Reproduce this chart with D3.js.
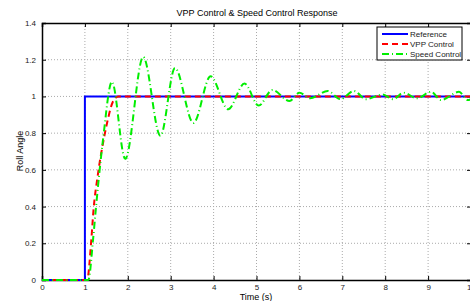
<!DOCTYPE html>
<html>
<head>
<meta charset="utf-8">
<script src="https://cdn.jsdelivr.net/npm/d3@7/dist/d3.min.js"></script>
<style>
body { margin: 0; background: #fff; }
svg text { font-family: "Liberation Sans", Arial, sans-serif; }
</style>
</head>
<body>
<div id="chart"></div>
<script>
// values
var refT = [0, 1, 1, 10];
var refV = [0, 0, 1, 1];

var vppT = [0, 1.05, 1.15, 1.2, 1.3, 1.45, 1.54, 1.65, 1.78, 10];
var vppV = [0, 0, 0.22, 0.38, 0.57, 0.78, 0.88, 0.97, 1.0, 1.0];

var spdT = [0, 1.08, 1.19, 1.26, 1.42, 1.63, 1.94, 2.36, 2.76, 3.1, 3.53, 3.93, 4.34, 4.72, 5.05,
  5.37, 5.77, 6.0, 6.25, 6.66, 6.96, 7.27, 7.55, 7.94, 8.18, 8.43, 8.74, 9.07, 9.3, 9.72, 9.93, 10];
var spdV = [0, 0, 0.22, 0.4, 0.76, 1.08, 0.66, 1.215, 0.785, 1.155, 0.855, 1.11, 0.93, 1.07, 0.95,
  1.035, 0.975, 1.02, 0.99, 1.03, 0.985, 1.03, 0.985, 1.01, 0.985, 1.02, 0.99, 1.025, 0.98, 1.025, 0.98, 0.985];

var xTicks = [0, 1, 2, 3, 4, 5, 6, 7, 8, 9, 10];
var yTicks = [0, 0.2, 0.4, 0.6, 0.8, 1, 1.2, 1.4];
var seriesNames = ["Reference", "VPP Control", "Speed Control"];

var margin = {top: 23, right: -1, bottom: 21, left: 42};
var W = 470, H = 301;
var width = W - margin.left - margin.right;
var height = H - margin.top - margin.bottom;

var svg = d3.select("#chart").append("svg")
    .attr("width", W)
    .attr("height", H);

var g = svg.append("g")
    .attr("transform", "translate(" + margin.left + "," + margin.top + ")");

var x = d3.scaleLinear().domain([0, 10]).range([0, width]);
var y = d3.scaleLinear().domain([0, 1.4]).range([height, 0]);

// grid
g.selectAll(".vgrid").data(xTicks.slice(1, -1)).enter().append("line")
    .attr("x1", function(d) { return x(d); }).attr("x2", function(d) { return x(d); })
    .attr("y1", 0).attr("y2", height)
    .style("stroke", "#aaa").style("stroke-width", 1).style("stroke-dasharray", "1,2");
g.selectAll(".hgrid").data(yTicks.slice(1, -1)).enter().append("line")
    .attr("x1", 0).attr("x2", width)
    .attr("y1", function(d) { return y(d); }).attr("y2", function(d) { return y(d); })
    .style("stroke", "#aaa").style("stroke-width", 1).style("stroke-dasharray", "1,2");

// axes
var fmt = function(d) { return String(d); };
g.append("g").attr("transform", "translate(0," + height + ")")
    .call(d3.axisBottom(x).tickValues(xTicks).tickSize(-4).tickPadding(4).tickFormat(fmt));
g.append("g")
    .call(d3.axisTop(x).tickValues(xTicks).tickSize(-4).tickFormat(""));
g.append("g")
    .call(d3.axisLeft(y).tickValues(yTicks).tickSize(-4).tickPadding(6).tickFormat(fmt));
g.append("g").attr("transform", "translate(" + width + ",0)")
    .call(d3.axisRight(y).tickValues(yTicks).tickSize(-4).tickFormat(""));

g.selectAll(".domain").style("stroke", "#000").style("stroke-width", 1.5);
g.selectAll(".tick line").style("stroke", "#000");
g.selectAll(".tick text").style("font-size", "8px").style("fill", "#222");

// lines
var line = d3.line()
    .x(function(d) { return x(d[0]); })
    .y(function(d) { return y(d[1]); });
var smooth = d3.line()
    .curve(d3.curveMonotoneX)
    .x(function(d) { return x(d[0]); })
    .y(function(d) { return y(d[1]); });

var clip = svg.append("clipPath").attr("id", "clip").append("rect")
    .attr("x", 0).attr("y", 0).attr("width", width).attr("height", height + 2);

var plot = g.append("g").attr("clip-path", "url(#clip)");

plot.append("path").datum(d3.zip(refT, refV))
    .attr("d", line).style("fill", "none").style("stroke", "#0000ff").style("stroke-width", 2);
plot.append("path").datum(d3.zip(vppT, vppV))
    .attr("d", smooth).style("fill", "none").style("stroke", "#ff0000").style("stroke-width", 2)
    .style("stroke-dasharray", "6,4");
plot.append("path").datum(d3.zip(spdT, spdV))
    .attr("d", smooth).style("fill", "none").style("stroke", "#00ee00").style("stroke-width", 2)
    .style("stroke-dasharray", "7,3,1,3");

// titles
svg.append("text").attr("x", 257).attr("y", 16).attr("text-anchor", "middle")
    .style("font-size", "9px").text("VPP Control & Speed Control Response");
svg.append("text").attr("x", 256).attr("y", 300).attr("text-anchor", "middle")
    .style("font-size", "9px").text("Time (s)");
svg.append("text").attr("transform", "translate(23,151) rotate(-90)").attr("text-anchor", "middle")
    .style("font-size", "9px").text("Roll Angle");

// legend
var lg = svg.append("g").attr("transform", "translate(377,27)");
lg.append("rect").attr("width", 85).attr("height", 33)
    .style("fill", "#fff").style("stroke", "#000").style("stroke-width", 1);
var styles = [
  {c: "#0000ff", d: null},
  {c: "#ff0000", d: "6,4"},
  {c: "#00ee00", d: "7,3,1,3"}
];
seriesNames.forEach(function(n, i) {
  var yy = 7 + i * 10;
  lg.append("line").attr("x1", 5).attr("x2", 31).attr("y1", yy).attr("y2", yy)
      .style("stroke", styles[i].c).style("stroke-width", 2)
      .style("stroke-dasharray", styles[i].d);
  lg.append("text").attr("x", 33).attr("y", yy + 3)
      .style("font-size", "8px").style("fill", "#222").text(n);
});
</script>
</body>
</html>
